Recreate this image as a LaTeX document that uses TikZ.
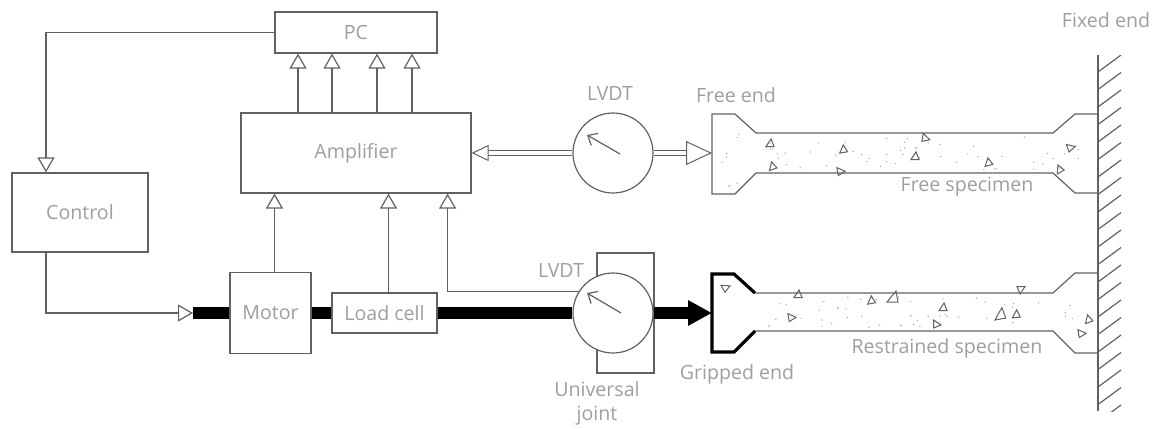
\documentclass[tikz,border=0pt]{standalone}
\usepackage{fontspec}
\setmainfont{Open Sans}
\usetikzlibrary{arrows.meta,positioning,calc}
\definecolor{ln}{gray}{0.38}
\definecolor{tx}{gray}{0.62}

\begin{document}
\begin{tikzpicture}[x=0.5pt, y=-0.5pt, font=\fontsize{9.8}{12}\selectfont,
  box/.style={draw=ln, line width=0.6pt, fill=white, inner sep=0pt, text=tx},
  sig/.style={-{Triangle[open,length=7.5pt,width=8.5pt]}, draw=ln, line width=0.6pt},
  shaft/.style={line width=6pt, black},
  dbl/.style={draw=ln, line width=0.5pt, double=white, double distance=2pt},
  needle/.style={-{Straight Barb[length=4pt,width=7pt]}, draw=ln, line width=0.6pt},
  lbl/.style={text=tx, inner sep=0pt},
  spec/.style={draw=ln, line width=0.6pt},
  agg/.style={draw=ln, line width=0.5pt}]

\useasboundingbox (0,0) rectangle (1155,428);

% measuring and control chain
\node[box, minimum width=81pt, minimum height=20.5pt] (pc) at (356,32.5) {PC};
\node[box, minimum width=115pt, minimum height=40pt] (amp) at (356,153) {Amplifier};
\node[box, minimum width=68pt, minimum height=39.5pt] (ctrl) at (80,212.5) {Control};
\node[box, minimum width=40.5pt, minimum height=40.5pt] (motor) at (270.5,313) {Motor};
\node[box, minimum width=52.5pt, minimum height=20pt] (load) at (384.5,313) {Load cell};

% universal joint sits behind the lower LVDT
\node[box, minimum width=28.5pt, minimum height=60pt] (joint) at (625.5,313) {};
\node[box, circle, minimum size=40pt] (lvdtB) at (613,313) {};
\node[box, circle, minimum size=40pt] (lvdtA) at (613,153) {};

\coordinate (drv) at (193,313);
\coordinate (grip) at (712,313);
\coordinate (free) at (712,153);

% signal lines
\foreach \dx in {-29,-12,10.5,28}
  \draw[sig] ([xshift=\dx pt]amp.north) -- ([xshift=\dx pt]pc.south);
\draw[sig] (pc.west) -| ([xshift=-17pt]ctrl.north);
\draw[sig] ([xshift=-17pt]ctrl.south) |- (drv);
\draw[sig] ([xshift=2pt]motor.north) -- ([xshift=2pt]motor.north |- amp.south);
\draw[sig] ([xshift=2pt]load.north) -- ([xshift=2pt]load.north |- amp.south);
\draw[sig] (lvdtB.148) -| ([xshift=-12pt]amp.south east);
\draw[dbl, -{Triangle[open,length=8.5pt,width=8pt]}] (lvdtA.west) -- (amp.east);
\draw[dbl, -{Triangle[open,length=13pt,width=12pt]}] (lvdtA.east) -- (free);

% loading train
\draw[shaft] (drv) -- (motor.west);
\draw[shaft] (motor.east) -- (load.west);
\draw[shaft] (load.east) -- (lvdtB.west);
\draw[shaft, -{Triangle[length=12pt,width=12pt]}] (lvdtB.east) -- (grip);

% dial needles
\draw[needle] ([shift={(7,1)}]lvdtA.center) -- ++(-33,-19);
\draw[needle] ([shift={(8,0)}]lvdtB.center) -- ++(-34,-20);

% specimens
\draw[line width=1.6pt, black] (755,293) -- (734,274) -- (712,274) -- (712,352) -- (734,352) -- (755,331);
\draw[spec] (755,293) -- (1053,293) -- (1075,273) -- (1098,273);
\draw[spec] (755,331) -- (1053,331) -- (1075,353) -- (1098,353);
\draw[spec] (1098,114) -- (1075,114) -- (1053,133) -- (756,133) -- (735,114) -- (712,114)
  -- (712,194) -- (735,194) -- (756,173) -- (1053,173) -- (1075,193) -- (1098,193);

% aggregate
\foreach \x/\y/\r in {770/143/0, 772/166/20, 843/149/10, 841/171/-80, 926/138/-100,
    915/156/0, 988/162/15, 1071/147/-70, 1059/169/30,
    726/287/-60, 798/294/0, 792/317/-80, 871/300/10, 943/307/0, 937/324/-90,
    1016/314/5, 1021/290/180, 1088/319/20, 1082/333/-80}
  \draw[agg, rotate around={\r:(\x,\y)}] (\x,\y) +(-4,3.5) -- +(4,3.5) -- +(1,-4) -- cycle;
\foreach \x/\y/\r in {893/297/0, 1000/314/10}
  \draw[agg, rotate around={\r:(\x,\y)}] (\x,\y) +(-6,5) -- +(5,5) -- +(3,-6) -- cycle;
\pgfmathsetseed{41}
\foreach \i in {1,...,55} {
  \pgfmathsetmacro\xx{760+rnd*330}
  \pgfmathsetmacro\yy{137+rnd*33}
  \fill[ln!60] (\xx,\yy) circle (0.35pt);
}
\foreach \i in {1,...,50} {
  \pgfmathsetmacro\xx{760+rnd*330}
  \pgfmathsetmacro\yy{296+rnd*32}
  \fill[ln!60] (\xx,\yy) circle (0.35pt);
}
\foreach \i in {1,...,8} {
  \pgfmathsetmacro\xx{716+rnd*30}
  \pgfmathsetmacro\yy{120+rnd*70}
  \fill[ln!60] (\xx,\yy) circle (0.35pt);
}

% fixed wall
\draw[spec] (1098,55) -- (1098,411);
\begin{scope}
  \clip (1098,55) rectangle (1135,411);
  \foreach \y in {72,89.5,...,425}
    \draw[spec] (1098,\y) -- ++(23,-17);
\end{scope}

% labels
\node[lbl] (lvdtAlbl) at (610,94) {LVDT};
\node[lbl] (freelbl) at (736,95) {Free end};
\node[lbl] (lvdtBlbl) at (561,270) {LVDT};
\node[lbl, align=center] (jointlbl) at (597,403) {Universal\\joint};
\node[lbl] (griplbl) at (737,374) {Gripped end};
\node[lbl] (fspeclbl) at (967,187) {Free specimen};
\node[lbl] (rspeclbl) at (947,348) {Restrained specimen};
\node[lbl] (fixlbl) at (1106,20) {Fixed end};
\end{tikzpicture}
\end{document}
